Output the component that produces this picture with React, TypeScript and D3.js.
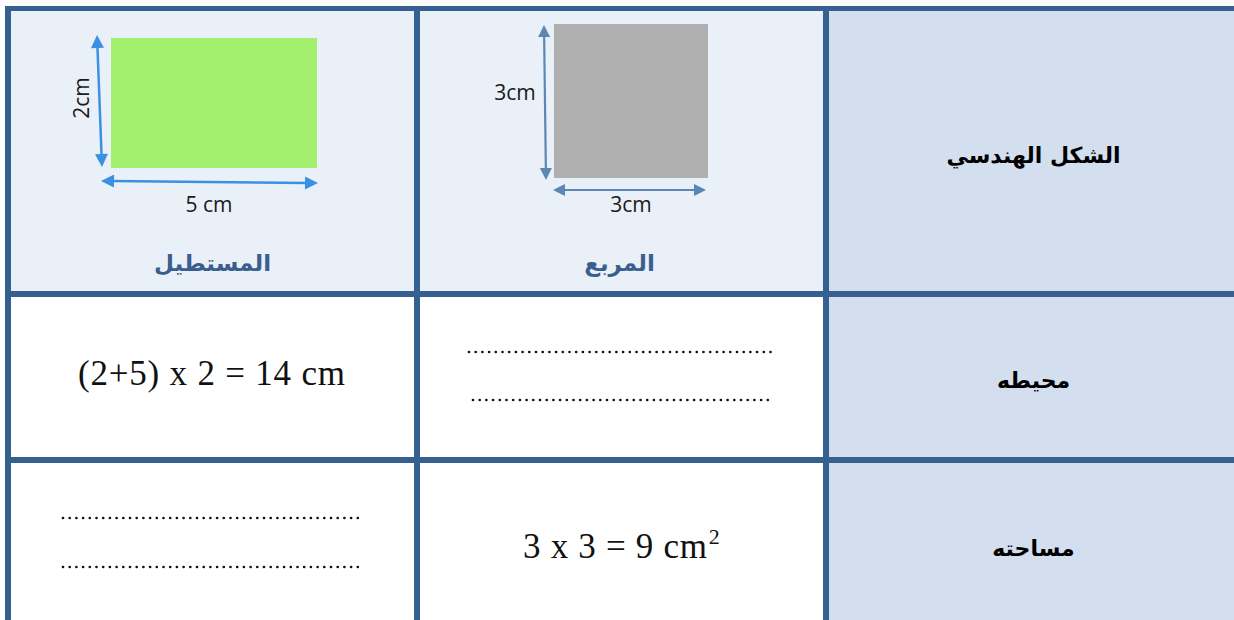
import React from "react";
import * as d3 from "d3";

// ---- content ----
const headerLabels = ["الشكل الهندسي", "محيطه", "مساحته"];
const shapeNames = ["المستطيل", "المربع"];
const perimeterTexts = ["(2+5) x 2 = 14 cm", ""];
const areaTexts = ["", "3 x 3 = 9 cm"];
const rectDims = [5, 2]; // width, height in cm
const squareDims = [3, 3];
const dimLabels = ["2cm", "5 cm", "3cm", "3cm"];

const W = 1234;
const H = 620;
const BORDER = "#36608f";
const LIGHT = "#eaf0f8";
const HEAD = "#d3dfee";

// column boundary lines (centers), row boundary lines (centers)
const colX = d3.scaleLinear().domain([0, 3]).range([8, 1235]);
const rowLines = [8.5, 294, 460, 640];

function Arrow({ x1, y1, x2, y2, color, head = 13, hw = 6.5, sw = 2.5 }) {
  const ang = Math.atan2(y2 - y1, x2 - x1);
  const mk = (tx, ty, a) => {
    const bx = tx - head * Math.cos(a);
    const by = ty - head * Math.sin(a);
    const px = -Math.sin(a) * hw;
    const py = Math.cos(a) * hw;
    const p = d3.path();
    p.moveTo(tx, ty);
    p.lineTo(bx + px, by + py);
    p.lineTo(bx - px, by - py);
    p.closePath();
    return p.toString();
  };
  const sx = x1 + (head - 2) * Math.cos(ang);
  const sy = y1 + (head - 2) * Math.sin(ang);
  const ex = x2 - (head - 2) * Math.cos(ang);
  const ey = y2 - (head - 2) * Math.sin(ang);
  return (
    <g>
      <line x1={sx} y1={sy} x2={ex} y2={ey} stroke={color} strokeWidth={sw} />
      <path d={mk(x2, y2, ang)} fill={color} />
      <path d={mk(x1, y1, ang + Math.PI)} fill={color} />
    </g>
  );
}

function Dotted({ x1, x2, y }) {
  return (
    <line
      x1={x1}
      x2={x2}
      y1={y}
      y2={y}
      stroke="#111"
      strokeWidth={2.7}
      strokeDasharray="0 6.7"
      strokeLinecap="round"
    />
  );
}

export default function App() {
  const c0 = colX(0), c1 = colX(1), c2 = colX(2);
  const cx = (i) => (colX(i) + colX(i + 1)) / 2;
  const arabic = "'DejaVu Sans', sans-serif";
  const serif = "'Liberation Serif', 'Times New Roman', serif";
  const sans = "'Open Sans', 'Liberation Sans', sans-serif";

  // figure scales
  const rx = d3.scaleLinear().domain([0, rectDims[0]]).range([111, 317]);
  const ry = d3.scaleLinear().domain([0, rectDims[1]]).range([168, 38]);
  const sx = d3.scaleLinear().domain([0, squareDims[0]]).range([554, 708]);
  const sy = d3.scaleLinear().domain([0, squareDims[1]]).range([178, 24]);

  return (
    <svg
      width={W}
      height={H}
      style={{ position: "absolute", left: 0, top: 0, background: "#fff" }}
    >
      {/* backgrounds */}
      <rect x={c0} y={rowLines[0]} width={c2 - c0} height={rowLines[1] - rowLines[0]} fill={LIGHT} />
      <rect x={c2} y={rowLines[0]} width={W - c2} height={H - rowLines[0]} fill={HEAD} />

      {/* rectangle figure */}
      <rect x={rx(0)} y={ry(rectDims[1])} width={rx(rectDims[0]) - rx(0)} height={ry(0) - ry(rectDims[1])} fill="#a3ef6e" />
      <Arrow x1={97} y1={35} x2={102} y2={167} color="#3b90e2" />
      <Arrow x1={101} y1={181} x2={318} y2={183} color="#3b90e2" />
      <text x={0} y={0} transform="translate(89,98) rotate(-90)" textAnchor="middle" fontFamily={sans} fontSize={21} fill="#1a1a1a">{dimLabels[0]}</text>
      <text x={209} y={212} textAnchor="middle" fontFamily={sans} fontSize={21} fill="#1a1a1a">{dimLabels[1]}</text>

      {/* square figure */}
      <rect x={sx(0)} y={sy(squareDims[1])} width={sx(squareDims[0]) - sx(0)} height={sy(0) - sy(squareDims[1])} fill="#b0b0b0" />
      <Arrow x1={544} y1={25} x2={546} y2={180} color="#5b87b5" head={12} hw={6} sw={2.2} />
      <Arrow x1={553} y1={190} x2={706} y2={190} color="#5b87b5" head={12} hw={6} sw={2.2} />
      <text x={515} y={100} textAnchor="middle" fontFamily={sans} fontSize={21} fill="#1a1a1a">{dimLabels[2]}</text>
      <text x={631} y={212} textAnchor="middle" fontFamily={sans} fontSize={21} fill="#1a1a1a">{dimLabels[3]}</text>

      {/* shape names */}
      {shapeNames.map((n, i) => (
        <text key={n} x={cx(i) - (i === 0 ? 0 : 2)} y={271} textAnchor="middle" direction="rtl" fontFamily={arabic} fontWeight="bold" fontSize={23} fill="#3a5f8f">{n}</text>
      ))}

      {/* header column labels */}
      {headerLabels.map((t, i) => {
        const ys = [163, 388, 556];
        return (
          <text key={t} x={cx(2) + 3} y={ys[i]} textAnchor="middle" direction="rtl" fontFamily={arabic} fontWeight="bold" fontSize={22} fill="#000">{t}</text>
        );
      })}

      {/* perimeter row */}
      <text x={78} y={385} textLength={267} lengthAdjust="spacing" fontFamily={serif} fontSize={35} fill="#111">{perimeterTexts[0]}</text>
      <Dotted x1={469} x2={775} y={352} />
      <Dotted x1={473} x2={772} y={400} />

      {/* area row */}
      <Dotted x1={63} x2={362} y={518} />
      <Dotted x1={63} x2={362} y={567} />
      <text x={523} y={558} fontFamily={serif} fontSize={35} fill="#111">
        <tspan textLength={184} lengthAdjust="spacing">{areaTexts[1]}</tspan>
        <tspan dx={1} dy={-14} fontSize={22}>2</tspan>
      </text>

      {/* grid lines */}
      {[c0, c1, c2].map((x, i) => (
        <line key={"v" + i} x1={x} x2={x} y1={rowLines[0] - 2.5} y2={H} stroke={BORDER} strokeWidth={6} />
      ))}
      {rowLines.slice(0, 3).map((y, i) => (
        <line key={"h" + i} x1={c0 - 3} x2={W} y1={y} y2={y} stroke={BORDER} strokeWidth={i === 0 ? 5 : 6} />
      ))}
    </svg>
  );
}
